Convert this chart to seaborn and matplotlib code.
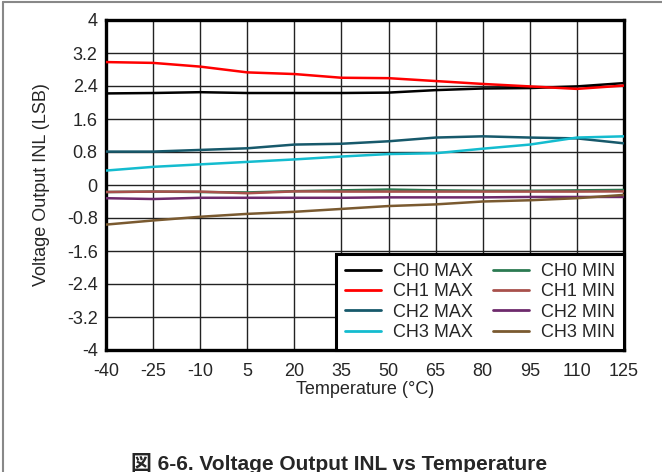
import matplotlib
matplotlib.use("Agg")
import matplotlib.pyplot as plt
import seaborn as sns
import pandas as pd
from matplotlib.lines import Line2D

temps = [-40, -25, -10, 5, 20, 35, 50, 65, 80, 95, 110, 125]
ch0_max = [2.22, 2.23, 2.25, 2.23, 2.23, 2.23, 2.24, 2.30, 2.34, 2.35, 2.39, 2.47]
ch1_max = [2.98, 2.96, 2.87, 2.73, 2.69, 2.60, 2.59, 2.52, 2.45, 2.39, 2.33, 2.41]
ch2_max = [0.81, 0.81, 0.85, 0.89, 0.98, 1.00, 1.06, 1.15, 1.18, 1.15, 1.13, 1.01]
ch3_max = [0.35, 0.44, 0.50, 0.56, 0.62, 0.69, 0.75, 0.77, 0.88, 0.98, 1.15, 1.18]
ch0_min = [-0.17, -0.16, -0.17, -0.18, -0.15, -0.13, -0.11, -0.13, -0.14, -0.14, -0.13, -0.12]
ch1_min = [-0.17, -0.16, -0.16, -0.20, -0.155, -0.16, -0.16, -0.16, -0.16, -0.16, -0.16, -0.155]
ch2_min = [-0.32, -0.34, -0.31, -0.31, -0.31, -0.31, -0.30, -0.30, -0.30, -0.29, -0.29, -0.29]
ch3_min = [-0.96, -0.86, -0.77, -0.70, -0.65, -0.58, -0.51, -0.47, -0.40, -0.37, -0.32, -0.24]

series_names = ["CH0 MAX", "CH1 MAX", "CH2 MAX", "CH3 MAX",
                "CH0 MIN", "CH1 MIN", "CH2 MIN", "CH3 MIN"]
series_vals = [ch0_max, ch1_max, ch2_max, ch3_max, ch0_min, ch1_min, ch2_min, ch3_min]
colors = ["#000000", "#ff0000", "#17596b", "#14bccf",
          "#2b7a52", "#a8514c", "#6e2a6c", "#7a5a30"]

yticks = [-4, -3.2, -2.4, -1.6, -0.8, 0, 0.8, 1.6, 2.4, 3.2, 4]
ytick_labels = ["-4", "-3.2", "-2.4", "-1.6", "-0.8", "0", "0.8", "1.6", "2.4", "3.2", "4"]

rows = []
for name, vals in zip(series_names, series_vals):
    for t, v in zip(temps, vals):
        rows.append({"Temperature": t, "INL": v, "Series": name})
df = pd.DataFrame(rows)

sns.set_style("white")
plt.rcParams["font.family"] = ["Liberation Sans", "Noto Sans CJK JP", "DejaVu Sans"]

fig = plt.figure(figsize=(6.62, 4.72), dpi=100)
ax = fig.add_axes([106/662, 1 - 350/472, (624-106)/662, (350-20)/472])

palette = dict(zip(series_names, colors))
sns.lineplot(data=df, x="Temperature", y="INL", hue="Series", hue_order=series_names,
             palette=palette, ax=ax, linewidth=1.8, legend=False, zorder=3)

FS = 13
ax.set_xlim(-40, 125)
ax.set_ylim(-4, 4)
ax.set_xticks(temps)
ax.set_xticklabels([str(t) for t in temps], fontsize=FS)
ax.set_yticks(yticks)
ax.set_yticklabels(ytick_labels, fontsize=FS)
ax.tick_params(axis="x", length=0, pad=9)
ax.tick_params(axis="y", length=0, pad=6)
ax.grid(True, color="#222222", linewidth=1.0)
ax.set_axisbelow(True)
for s in ax.spines.values():
    s.set_visible(True)
    s.set_color("black")
    s.set_linewidth(2.4)

ax.set_xlabel("Temperature (°C)", fontsize=FS, labelpad=1)
ax.set_ylabel("Voltage Output INL (LSB)", fontsize=FS, labelpad=12)

handles = [Line2D([0], [0], color=c, linewidth=2) for c in colors]
leg = ax.legend(handles, series_names, ncol=2, loc="lower right", bbox_to_anchor=(1, 0),
                borderaxespad=0, fontsize=FS, frameon=True, fancybox=False,
                handlelength=2.0, columnspacing=1.1, labelspacing=0.18,
                handletextpad=0.65, borderpad=0.5)
leg.get_frame().set_edgecolor("black")
leg.get_frame().set_linewidth(2.2)
leg.get_frame().set_alpha(1)
leg.set_zorder(5)

fig.text(339/662, 1 - 463/472, "図 6-6. Voltage Output INL vs Temperature",
         ha="center", va="center", fontsize=15, fontweight="bold")

fig.add_artist(Line2D([3/662, 3/662], [0, 1 - 2/472], transform=fig.transFigure,
                      color="#888888", linewidth=1.5))
fig.add_artist(Line2D([3/662, 1], [1 - 2/472, 1 - 2/472], transform=fig.transFigure,
                      color="#888888", linewidth=1.5))

fig.savefig("out.png", dpi=100)
